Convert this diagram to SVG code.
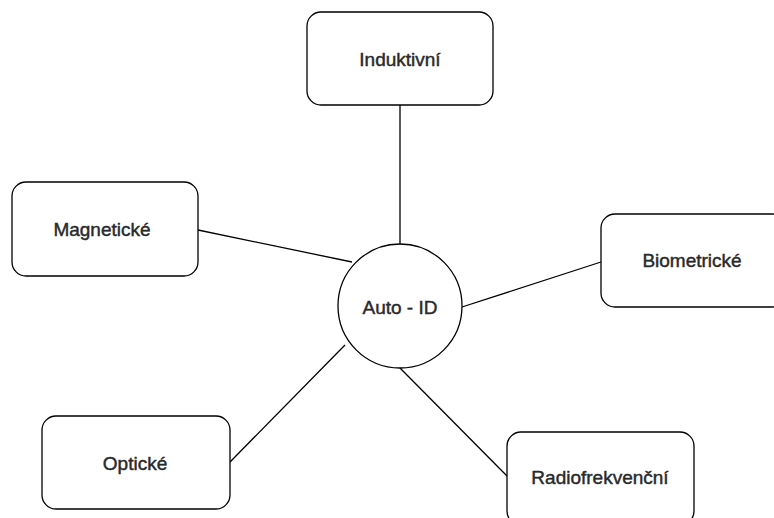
<svg xmlns="http://www.w3.org/2000/svg" width="774" height="518" viewBox="0 0 774 518">
<style>
.box{fill:#fff;stroke:#000;stroke-width:1.3}
.lbl{font-family:"Liberation Sans",Arial,sans-serif;font-size:19px;fill:#2a2a2a;stroke:#2a2a2a;stroke-width:0.45;text-anchor:middle;dominant-baseline:central}
.conn{stroke:#000;stroke-width:1.3;fill:none}
</style>
<rect width="774" height="518" fill="#fff"/>
<g id="connectors">
<line class="conn" x1="400" y1="105" x2="400" y2="244"/>
<line class="conn" x1="198" y1="230" x2="352" y2="262"/>
<line class="conn" x1="601" y1="262" x2="462" y2="307"/>
<line class="conn" x1="230" y1="462" x2="345" y2="345"/>
<line class="conn" x1="400" y1="368" x2="507" y2="476"/>
</g>
<g id="induktivni"><rect class="box" x="307" y="12" width="186" height="93" rx="14"/><text class="lbl" x="400" y="59">Induktivní</text></g>
<g id="magneticke"><rect class="box" x="12" y="182" width="186" height="94" rx="14"/><text class="lbl" x="102" y="229">Magnetické</text></g>
<g id="biometricke"><rect class="box" x="601" y="214" width="186" height="93" rx="14"/><text class="lbl" x="692" y="260">Biometrické</text></g>
<g id="autoid"><circle class="box" cx="400" cy="306" r="62"/><text class="lbl" x="400" y="307">Auto - ID</text></g>
<g id="opticke"><rect class="box" x="42" y="416" width="188" height="93" rx="14"/><text class="lbl" x="135" y="463">Optické</text></g>
<g id="radiofrekvencni"><rect class="box" x="507" y="432" width="187" height="93" rx="14"/><text class="lbl" x="600" y="477">Radiofrekvenční</text></g>
</svg>
